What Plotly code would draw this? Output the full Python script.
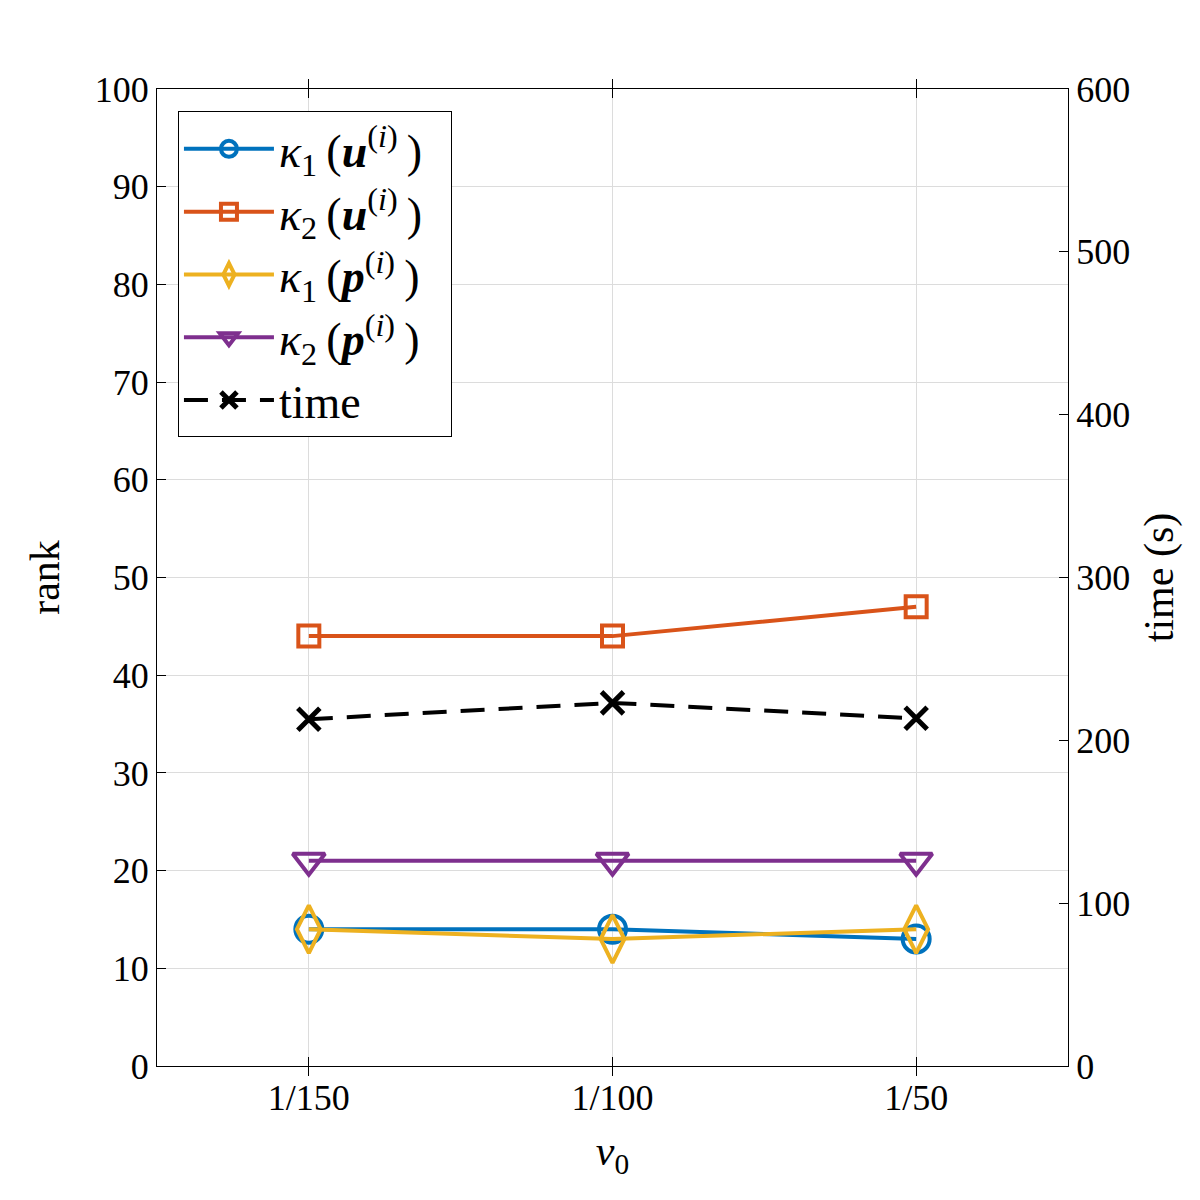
import plotly.graph_objects as go

x_pos = [1, 2, 3]
x_labels = ["1/150", "1/100", "1/50"]
kappa1_u = [14, 14, 13]
kappa2_u = [44, 44, 47]
kappa1_p = [14, 13, 14]
kappa2_p = [21, 21, 21]
time_s = [213, 223, 213.5]

FONT = "Liberation Serif"
fig = go.Figure()

def lab(k, v):
    return ("<i>κ</i><sub>%s</sub>\u2009(<b><i>%s</i></b><sup>(<i>i</i>)</sup>\u2009)\u2002" % (k, v))

series = [
    (kappa1_u, lab("1", "u"), "#0072BD", "circle-open", 27),
    (kappa2_u, lab("2", "u"), "#D95319", "square-open", 21),
    (kappa1_p, lab("1", "p"), "#EDB120", "diamond-tall-open", 34),
    (kappa2_p, lab("2", "p"), "#7E2F8E", "triangle-down-open", 28),
]
for vals, name, color, sym, size in series:
    fig.add_trace(go.Scatter(
        x=x_pos, y=vals, name=name, mode="lines+markers",
        line=dict(color=color, width=4),
        marker=dict(symbol=sym, size=size, color=color, line=dict(color=color, width=4)),
    ))

fig.add_trace(go.Scatter(
    x=x_pos, y=time_s, name="time", mode="lines+markers", yaxis="y2",
    line=dict(color="black", width=4, dash="24px,14px"),
    marker=dict(symbol="x-thin-open", size=22, color="black", line=dict(color="black", width=5)),
))

axis_common = dict(
    showline=True, linecolor="black", linewidth=1,
    ticks="inside", ticklen=9, tickcolor="black",
    tickfont=dict(family=FONT, size=36, color="black"),
    zeroline=False,
)

fig.update_layout(
    width=1200, height=1200,
    margin=dict(l=157, r=132, t=89, b=134),
    paper_bgcolor="white", plot_bgcolor="white",
    font=dict(family=FONT, color="black"),
    xaxis=dict(
        **axis_common, range=[0.5, 3.5], tickvals=x_pos, ticktext=x_labels,
        mirror="allticks", showgrid=True, gridcolor="#dcdcdc", gridwidth=1,
        title=dict(text="<i>ν</i><sub>0</sub>", font=dict(family=FONT, size=42), standoff=18),
    ),
    yaxis=dict(
        **axis_common, range=[0, 100], dtick=10, tick0=0,
        showgrid=True, gridcolor="#dcdcdc", gridwidth=1,
        title=dict(text="rank", font=dict(family=FONT, size=42), standoff=22),
    ),
    yaxis2=dict(
        **axis_common, range=[0, 600], dtick=100, tick0=0,
        overlaying="y", side="right", showgrid=False,
        title=dict(text="time (s)", font=dict(family=FONT, size=42), standoff=14),
    ),
    legend=dict(
        x=0.023, y=0.977, xanchor="left", yanchor="top",
        bgcolor="white", bordercolor="black", borderwidth=1,
        font=dict(family=FONT, size=46, color="black"),
        itemwidth=90, tracegroupgap=0,
    ),
    showlegend=True,
)

fig.write_html("out.html")
